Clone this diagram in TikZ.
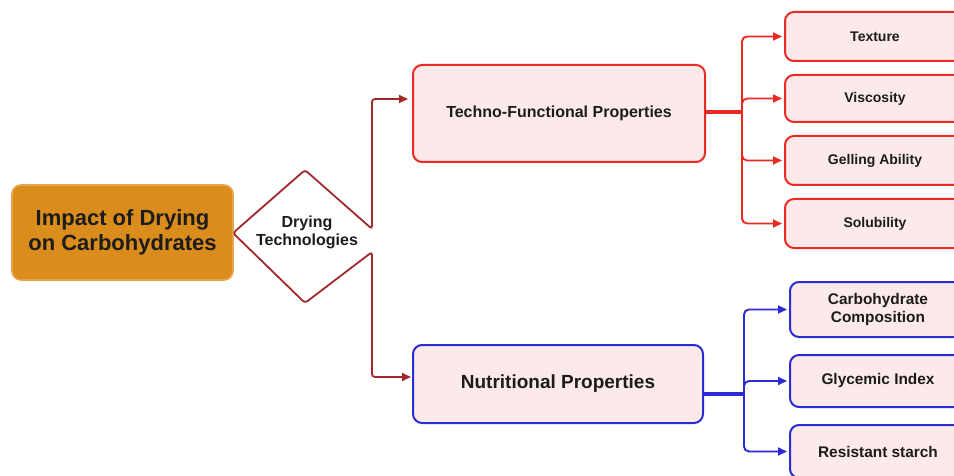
\documentclass[tikz,border=0pt]{standalone}
\usepackage{fontspec}
\setmainfont{Liberation Sans}
\usetikzlibrary{arrows.meta}

\definecolor{boxorange}{HTML}{DA8D1D}
\definecolor{boxorangeline}{HTML}{E6A54C}
\definecolor{darkred}{HTML}{A3282B}
\definecolor{brightred}{HTML}{EC2A24}
\definecolor{deepblue}{HTML}{2B2BD4}
\definecolor{softpink}{HTML}{FCEAEA}
\definecolor{ink}{HTML}{1C1C1C}

\tikzset{
  mainbox/.style={draw=boxorangeline, fill=boxorange, line width=1.6pt,
    rounded corners=9pt, align=center, text=ink, inner sep=0pt,
    font=\fontsize{22}{25}\selectfont\bfseries},
  redbox/.style={draw=brightred, fill=softpink, line width=2pt,
    rounded corners=9pt, align=center, text=ink, inner sep=0pt},
  bluebox/.style={draw=deepblue, fill=softpink, line width=2pt,
    rounded corners=9pt, align=center, text=ink, inner sep=0pt},
  tip/.style={-{Triangle[length=9pt,width=8pt]}},
  redlink/.style={draw=brightred, line width=1.9pt, rounded corners=5pt, tip, shorten >=2pt},
  bluelink/.style={draw=deepblue, line width=1.9pt, rounded corners=5pt, tip, shorten >=2pt},
}

\begin{document}
\begin{tikzpicture}[x=1pt, y=-1pt]
  \path[use as bounding box] (0,0) rectangle (954,476);
  \clip (0,0) rectangle (954,476);

  % central topic
  \node[mainbox, minimum width=221pt, minimum height=95pt] (impact) at (122.5,232.5)
    {Impact of Drying\\on Carbohydrates};

  % diamond corners
  \coordinate (dT) at (305,170);
  \coordinate (dL) at (233,233);
  \coordinate (dB) at (305,303);
  \coordinate (dR1) at (372,229);
  \coordinate (dR2) at (372,252);
  \node[align=center, text=ink, inner sep=0pt,
        font=\fontsize{16}{18}\selectfont\bfseries] (drying) at (307,232)
    {Drying\\Technologies};

  % property groups
  \node[redbox, minimum width=292pt, minimum height=97pt,
        font=\fontsize{16}{19}\selectfont\bfseries] (techno) at (559,113.5)
    {Techno-Functional Properties};
  \node[bluebox, minimum width=290pt, minimum height=78pt,
        font=\fontsize{19}{22}\selectfont\bfseries] (nutri) at (558,384)
    {Nutritional Properties};

  % techno-functional items
  \begin{scope}[every node/.style={redbox, minimum width=180pt,
        font=\fontsize{14}{17}\selectfont\bfseries}]
    \node[minimum height=49pt] (texture) at (875,36.5) {Texture};
    \node[minimum height=47pt] (visc) at (875,98.5) {Viscosity};
    \node[minimum height=49pt] (gel) at (875,160.5) {Gelling Ability};
    \node[minimum height=49pt] (solub) at (875,223.5) {Solubility};
  \end{scope}

  % nutritional items
  \begin{scope}[every node/.style={bluebox, minimum width=176pt,
        font=\fontsize{15.4}{18}\selectfont\bfseries}]
    \node[minimum height=55pt] (carb) at (878,309.5) {Carbohydrate\\Composition};
    \node[minimum height=52pt] (glyc) at (878,381) {Glycemic Index};
    \node[minimum height=53pt] (resist) at (878,451.5) {Resistant starch};
  \end{scope}

  % diamond outline continuing into both branches
  \draw[darkred, line width=1.8pt, rounded corners=3pt,
        {Triangle[length=9pt,width=8pt]}-{Triangle[length=9pt,width=8pt]},
        shorten <=4pt, shorten >=1pt]
    ([yshift=14.5pt]techno.west) -| (dR1) -- (dT) -- (dL) -- (dB) -- (dR2)
    |- ([yshift=7pt]nutri.west);

  % techno-functional fan-out
  \coordinate (tj) at (742,112);
  \draw[brightred, line width=3.2pt] (techno.east |- tj) -- (tj);
  \foreach \t in {texture, visc, gel, solub}
    \draw[redlink] (tj) |- (\t.west);

  % nutritional fan-out
  \coordinate (nj) at (744,394);
  \draw[deepblue, line width=3.4pt] (nutri.east |- nj) -- (nj);
  \foreach \t in {carb, glyc, resist}
    \draw[bluelink] (nj) |- (\t.west);
\end{tikzpicture}
\end{document}
